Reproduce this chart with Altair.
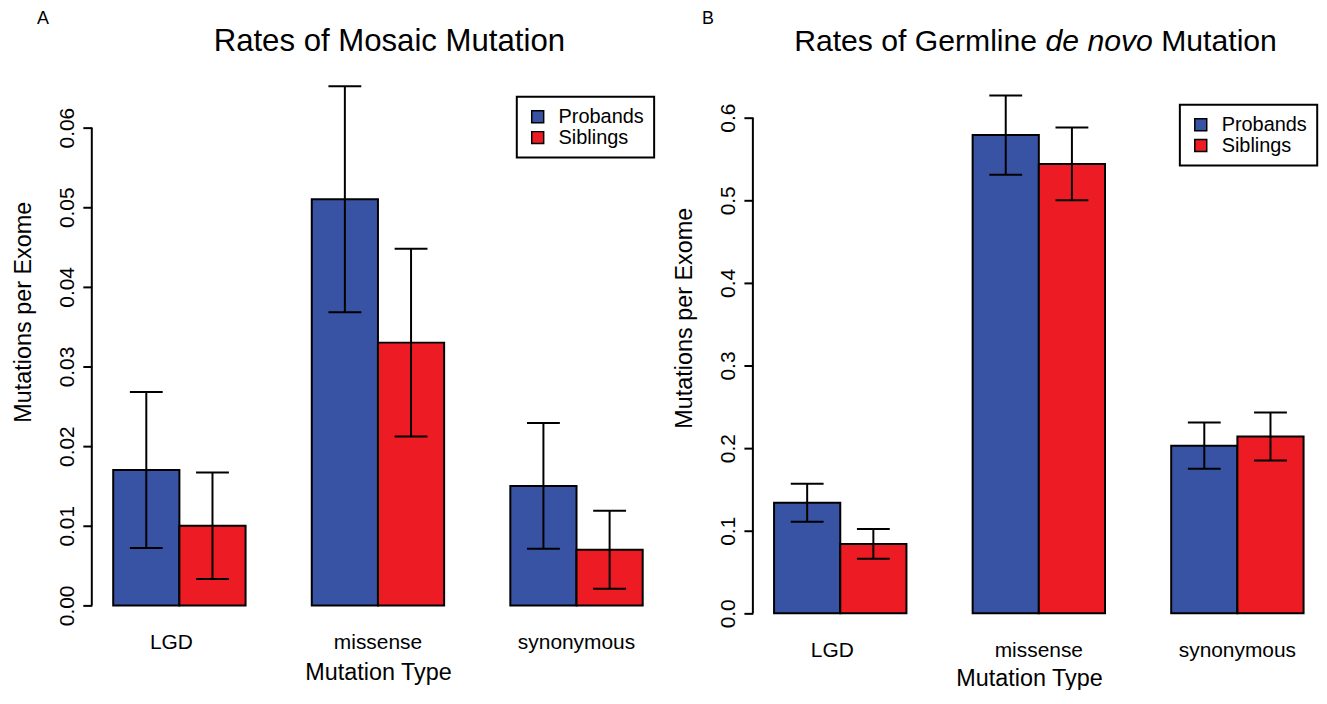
import altair as alt
import pandas as pd

FONT = "Liberation Sans"

categories = ["LGD", "missense", "synonymous"]
groups = ["Probands", "Siblings"]
group_colors = ["#3953A4", "#ED1C24"]

mosaic_probands = [0.017, 0.051, 0.015]
mosaic_siblings = [0.010, 0.033, 0.007]
mosaic_err_probands = [0.0098, 0.0142, 0.0079]
mosaic_err_siblings = [0.0067, 0.0118, 0.0049]
mosaic_ticks = [0.00, 0.01, 0.02, 0.03, 0.04, 0.05, 0.06]

germline_probands = [0.134, 0.579, 0.203]
germline_siblings = [0.084, 0.544, 0.214]
germline_err_probands = [0.023, 0.048, 0.028]
germline_err_siblings = [0.018, 0.044, 0.029]
germline_ticks = [0.0, 0.1, 0.2, 0.3, 0.4, 0.5, 0.6]

x_title = "Mutation Type"
y_title = "Mutations per Exome"
title_a_parts = ["Rates of Mosaic Mutation"]
title_a_styles = ["normal"]
title_b_parts = ["Rates of Germline", "de novo", "Mutation"]
title_b_styles = ["normal", "italic", "normal"]

# Liberation Sans / Arial advance widths (per 1000 em), used to lay out the mixed-style title
ADV = {'R': 722, 'a': 556, 't': 278, 'e': 556, 's': 500, ' ': 278, 'o': 556, 'f': 278,
       'G': 778, 'r': 333, 'm': 833, 'l': 222, 'i': 222, 'n': 556, 'd': 556, 'v': 500,
       'M': 833, 'u': 556, 'c': 500}

LABEL_SIZE = 21
AXIS_TITLE_SIZE = 23.5
LEGEND_SIZE = 20


def text_width(s, size):
    return sum(ADV.get(ch, 556) for ch in s) * size / 1000.0


def make_df(p, s, ep, es):
    rows = []
    for i, c in enumerate(categories):
        for g, v, e in ((groups[0], p[i], ep[i]), (groups[1], s[i], es[i])):
            rows.append({"category": c, "group": g, "value": v, "lo": v - e, "hi": v + e})
    return pd.DataFrame(rows)


def panel(df, ticks, fmt, ymax, width, height, pad_outer, align,
          letter, letter_dx, parts, styles, title_size, title_cx, ytitle_y, xtitle_y,
          legend_x, legend_y):
    xscale = alt.Scale(domain=categories, paddingInner=1 / 3, paddingOuter=pad_outer, align=align)
    oscale = alt.Scale(domain=groups, paddingInner=0, paddingOuter=0)
    yscale = alt.Scale(domain=[0, ymax], nice=False, zero=True)

    x_axis = alt.Axis(domain=False, ticks=False, tickSize=0, labelAngle=0, labelPadding=43,
                      labelOffset={"condition": {"test": f"datum.value == '{categories[0]}'",
                                                 "value": -8}, "value": 0},
                      labelBaseline="alphabetic", labelAlign="center", labelFont=FONT,
                      labelFontSize=LABEL_SIZE, labelColor="black", title=x_title,
                      titleFont=FONT, titleFontSize=AXIS_TITLE_SIZE, titleFontWeight="normal",
                      titleColor="black", titleY=xtitle_y, titleBaseline="alphabetic",
                      grid=False)
    y_axis = alt.Axis(values=ticks, format=fmt, domain=False, ticks=True, tickSize=9,
                      tickWidth=2, tickColor="black", labelAngle=270, labelAlign="center",
                      labelBaseline="alphabetic", labelPadding=9, labelFont=FONT,
                      labelFontSize=LABEL_SIZE, labelColor="black", title=y_title,
                      titleFont=FONT, titleFontSize=AXIS_TITLE_SIZE, titleFontWeight="normal",
                      titleColor="black", titleAngle=270, titleX=-62, titleY=ytitle_y,
                      titleAlign="center", titleBaseline="alphabetic", grid=False)

    xe = alt.X("category:N", scale=xscale, sort=categories, axis=x_axis)
    oe = alt.XOffset("group:N", scale=oscale, sort=groups)

    base = alt.Chart(df)
    bars = base.mark_bar(stroke="black", strokeWidth=2, opacity=1).encode(
        x=xe,
        xOffset=oe,
        y=alt.Y("value:Q", scale=yscale, axis=y_axis),
        color=alt.Color("group:N", scale=alt.Scale(domain=groups, range=group_colors),
                        legend=alt.Legend(title=None, orient="none", legendX=legend_x,
                                          legendY=legend_y, symbolType="square",
                                          symbolSize=144, symbolStrokeColor="black",
                                          symbolStrokeWidth=1.5, symbolOpacity=1,
                                          symbolOffset=1,
                                          labelFont=FONT, labelFontSize=LEGEND_SIZE,
                                          labelColor="black", labelOffset=11, padding=10,
                                          rowPadding=1, strokeColor="black",
                                          fillColor="white")),
    )
    stems = base.mark_rule(color="black", strokeWidth=2).encode(
        x=xe, xOffset=oe, y=alt.Y("lo:Q", scale=yscale, axis=y_axis), y2="hi:Q")
    cap_hi = base.mark_tick(color="black", size=33, thickness=2, opacity=1).encode(
        x=xe, xOffset=oe, y=alt.Y("hi:Q", scale=yscale, axis=y_axis))
    cap_lo = base.mark_tick(color="black", size=33, thickness=2, opacity=1).encode(
        x=xe, xOffset=oe, y=alt.Y("lo:Q", scale=yscale, axis=y_axis))
    axis_line = alt.Chart(pd.DataFrame({"lo": [min(ticks)], "hi": [max(ticks)]})).mark_rule(
        color="black", strokeWidth=2).encode(
        x=alt.value(0), y=alt.Y("lo:Q", scale=yscale, axis=y_axis), y2="hi:Q")

    letter_t = alt.Chart(pd.DataFrame({"t": [letter]})).mark_text(
        align="left", baseline="alphabetic", font=FONT, fontSize=18, color="black").encode(
        text="t:N", x=alt.value(letter_dx), y=alt.value(-94))

    # title pieces laid out left to right, centred on title_cx
    full = " ".join(parts)
    total = text_width(full, title_size)
    x0 = title_cx - total / 2.0
    title_layers = []
    consumed = ""
    for part, style in zip(parts, styles):
        px = x0 + text_width(consumed, title_size)
        title_layers.append(
            alt.Chart(pd.DataFrame({"t": [part]})).mark_text(
                align="left", baseline="alphabetic", font=FONT, fontSize=title_size,
                fontStyle=style, color="black").encode(
                text="t:N", x=alt.value(px), y=alt.value(-67)))
        consumed += part + " "

    return alt.layer(bars, stems, cap_hi, cap_lo, axis_line, letter_t, *title_layers).properties(
        width=width, height=height)


df_a = make_df(mosaic_probands, mosaic_siblings, mosaic_err_probands, mosaic_err_siblings)
df_b = make_df(germline_probands, germline_siblings, germline_err_probands, germline_err_siblings)

panel_a = panel(df_a, mosaic_ticks, ".2f", 0.06125, 575, 490, 0.10777, 0.5,
                "A", -55, title_a_parts, title_a_styles, 31.3, 299, 195, 74, 427, -21)
panel_b = panel(df_b, germline_ticks, ".1f", 0.6, 555, 498, 0.05764, 0.926,
                "B", -51, title_b_parts, title_b_styles, 30.3, 284, 201, 72, 429, -13)

chart = alt.hconcat(panel_a, panel_b, spacing=8.2).resolve_scale(
    color="independent", x="independent", y="independent", xOffset="independent"
).resolve_legend(color="independent").properties(
    padding={"left": 3.2, "top": 0.6, "right": 0, "bottom": -2}
).configure_view(stroke=None).configure_legend(strokeWidth=2)

chart.save("out.html", embed_options={"renderer": "svg", "actions": False})
